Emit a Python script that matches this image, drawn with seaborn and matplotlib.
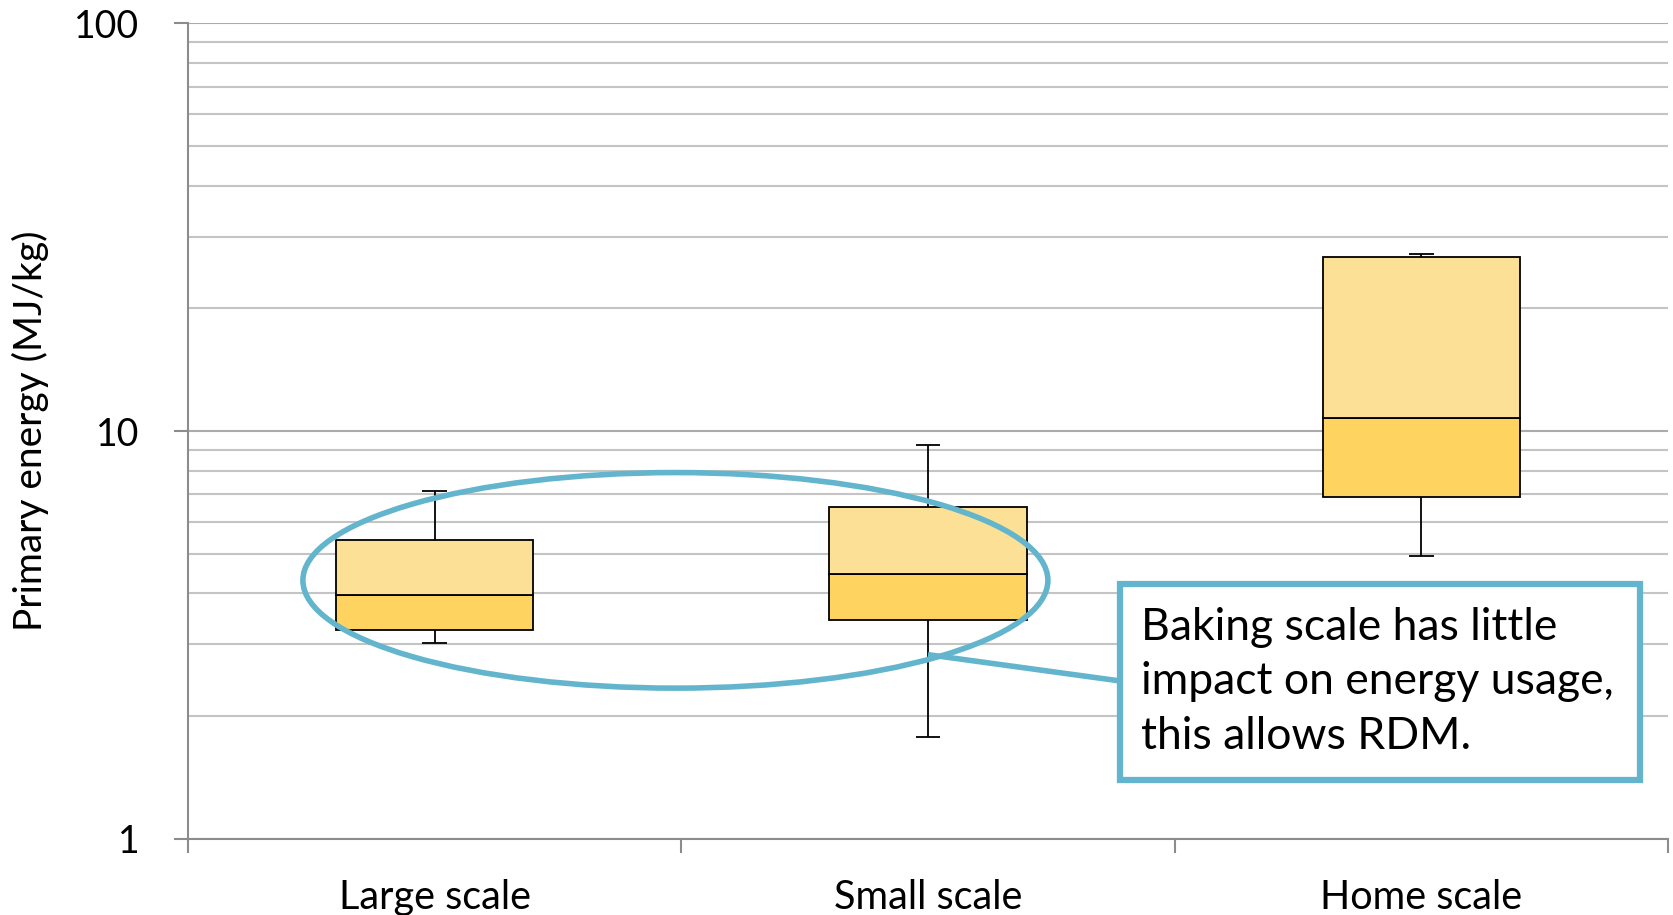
import numpy as np
import pandas as pd
import matplotlib
matplotlib.use("Agg")
import matplotlib.pyplot as plt
from matplotlib.patches import Ellipse, Rectangle
from matplotlib.ticker import LogLocator, NullFormatter, FixedLocator
import seaborn as sns

# Primary energy per kg of product, summarised per baking scale
categories = ["Large scale", "Small scale", "Home scale"]
whisker_low = [3.03, 1.78, 4.94]
q1 = [3.26, 3.44, 6.88]
median = [3.97, 4.46, 10.8]
q3 = [5.41, 6.52, 26.7]
whisker_high = [7.13, 9.25, 27.2]
y_ticks = [1, 10, 100]
note = "Baking scale has little\nimpact on energy usage,\nthis allows RDM."

light_fill = "#FCE095"
dark_fill = "#FED35F"
accent = "#62B5CC"
grid_col = "#C4C4C4"
axis_col = "#8C8C8C"

sns.set_theme(style="white")
plt.rcParams["font.family"] = ["Lato", "DejaVu Sans"]

df = pd.DataFrame({
    "scale": categories,
    "q1": q1, "median": median, "q3": q3,
    "lo": whisker_low, "hi": whisker_high,
})
df["lower_h"] = df["median"] - df["q1"]
df["upper_h"] = df["q3"] - df["median"]

fig = plt.figure(figsize=(16.73, 9.15), dpi=100)
ax = fig.add_axes([0.1124, 0.0831, 0.8846, 0.8913])
ax.set_yscale("log")
ax.set_ylim(1, 100)

# whiskers behind the boxes
pos = np.arange(len(categories))
cap = 0.025
ax.vlines(pos, df["lo"], df["hi"], color="black", lw=1.3, zorder=2)
ax.hlines(df["lo"], pos - cap, pos + cap, color="black", lw=1.3, zorder=2)
ax.hlines(df["hi"], pos - cap, pos + cap, color="black", lw=1.3, zorder=2)

# two-tone boxes: q1 -> median and median -> q3
sns.barplot(data=df, x="scale", y="lower_h", bottom=df["q1"].values, order=categories,
            color=dark_fill, width=0.4, edgecolor="black", linewidth=1.3,
            errorbar=None, ax=ax, zorder=3, saturation=1)
sns.barplot(data=df, x="scale", y="upper_h", bottom=df["median"].values, order=categories,
            color=light_fill, width=0.4, edgecolor="black", linewidth=1.3,
            errorbar=None, ax=ax, zorder=3, saturation=1)

ax.set_xlim(-0.5, len(categories) - 0.5)
ax.set_ylim(1, 100)

# gridlines
ax.yaxis.set_major_locator(FixedLocator(y_ticks))
ax.yaxis.set_minor_locator(LogLocator(base=10, subs=np.arange(2, 10)))
ax.yaxis.set_minor_formatter(NullFormatter())
ax.set_yticklabels([str(t) for t in y_ticks])
ax.grid(axis="y", which="major", color="#ABABAB", lw=1.5, zorder=0)
ax.grid(axis="y", which="minor", color=grid_col, lw=1.5, zorder=0)
ax.grid(axis="x", visible=False)
ax.set_axisbelow(True)

# category ticks sit between the groups
ax.set_xticks(pos)
ax.set_xticklabels(categories)
ax.set_xticks(np.arange(-0.5, len(categories)), minor=True)
ax.tick_params(axis="x", which="major", length=0, pad=29, labelsize=28.5, labelcolor="black")
ax.tick_params(axis="x", which="minor", length=10, width=1.5, color=axis_col, direction="out", bottom=True)
ax.tick_params(axis="y", which="major", length=10, width=1.5, color=axis_col, direction="out",
               left=True, labelsize=27, labelcolor="black", pad=25)
ax.tick_params(axis="y", which="minor", length=0)

for side in ["top", "right"]:
    ax.spines[side].set_visible(False)
for side in ["left", "bottom"]:
    ax.spines[side].set_color(axis_col)
    ax.spines[side].set_linewidth(1.5)

ax.set_xlabel("")
ax.set_ylabel("Primary energy (MJ/kg)", fontsize=28, color="black")
ax.yaxis.set_label_coords(-0.094, 0.5)

# callout: ellipse around the two similar scales, linked to a note box
ax.add_patch(Ellipse((0.3293, 0.3171), 0.5034, 0.2643, transform=ax.transAxes,
                     fill=False, edgecolor=accent, lw=4, zorder=5, clip_on=False))
ax.plot([0.50, 0.630], [0.226, 0.1937], transform=ax.transAxes, color=accent, lw=4,
        zorder=5, solid_capstyle="butt")
ax.add_patch(Rectangle((0.630, 0.0723), 0.351, 0.2409, transform=ax.transAxes,
                       facecolor="white", edgecolor=accent, lw=4.5, zorder=6, clip_on=False))
ax.text(0.644, 0.1925, note, transform=ax.transAxes, fontsize=32, va="center", ha="left",
        linespacing=1.42, color="black", zorder=7)

fig.savefig("out.png", dpi=100)
